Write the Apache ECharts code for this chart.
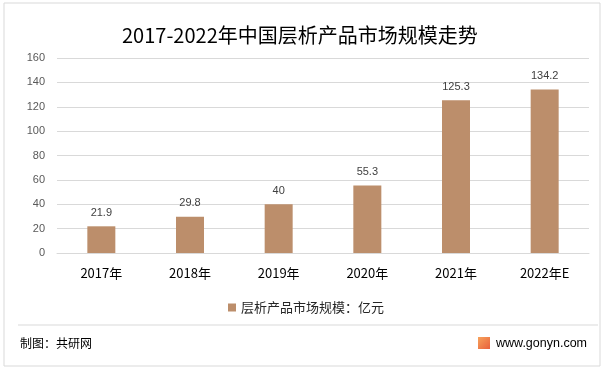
<!DOCTYPE html>
<html><head><meta charset="utf-8">
<script src="https://cdn.jsdelivr.net/npm/echarts@6/dist/echarts.min.js"></script>
<style>html,body{margin:0;padding:0;background:#fff}#c{width:612px;height:371px}</style>
</head><body><div id="c"></div>
<script>
const categories = ['2017年','2018年','2019年','2020年','2021年','2022年E'];
const values = [21.9, 29.8, 40, 55.3, 125.3, 134.2];
const seriesName = '层析产品市场规模：亿元';
const titleText = '2017-2022年中国层析产品市场规模走势';
const chart = echarts.init(document.getElementById('c'), null, {renderer:'canvas'});
chart.setOption({
  animation:false,
  backgroundColor:'#fff',
  title:{text:titleText,left:117,top:20,textStyle:{fontSize:20,fontWeight:'normal',color:'#000',fontFamily:'Noto Sans CJK SC'}},
  grid:{left:57,right:23,top:58,bottom:118},
  legend:{data:[seriesName],bottom:52,left:'center',itemWidth:8,itemHeight:8,icon:'rect',itemGap:4,textStyle:{fontSize:13,color:'#262626',fontFamily:'Noto Sans CJK SC'}},
  xAxis:{type:'category',data:categories,axisLine:{show:true,lineStyle:{color:'#d9d9d9'}},axisTick:{show:false},
    axisLabel:{fontSize:13,color:'#000',margin:14,fontFamily:'Noto Sans CJK SC'}},
  yAxis:{type:'value',min:0,max:160,interval:20,axisLine:{show:false},axisTick:{show:false},
    splitLine:{lineStyle:{color:'#d9d9d9'}},axisLabel:{fontSize:11,color:'#595959',margin:12,fontFamily:'Liberation Sans'}},
  series:[{name:seriesName,type:'bar',data:values,barWidth:28,itemStyle:{color:'#BC8E6B'},
    label:{show:true,position:'top',distance:8,fontSize:11,color:'#404040',fontFamily:'Liberation Sans'}}],
  graphic:[
    {type:'rect',shape:{x:4,y:3,width:596,height:363},style:{fill:'none',stroke:'#d9d9d9',lineWidth:1}},
    {type:'line',shape:{x1:18,y1:325,x2:598,y2:325},style:{stroke:'#d9d9d9',lineWidth:1}},
    {type:'text',left:20,top:337,style:{text:'制图：共研网',fontSize:12,fill:'#000',fontFamily:'Noto Sans CJK SC'}},
    {type:'rect',shape:{x:478,y:337,width:12,height:12},style:{fill:new echarts.graphic.LinearGradient(0,0,1,1,[{offset:0,color:'#f7a35c'},{offset:1,color:'#e8603c'}])}},
    {type:'text',left:496,top:337,style:{text:'www.gonyn.com',fontSize:12.5,fill:'#000',fontFamily:'Liberation Sans'}}
  ]
});
</script></body></html>
